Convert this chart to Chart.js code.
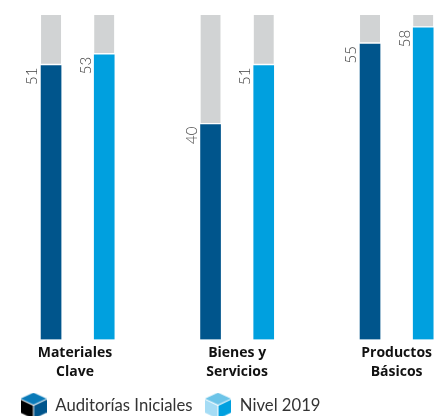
<!DOCTYPE html>
<html>
<head>
<meta charset="utf-8">
<script src="https://cdn.jsdelivr.net/npm/chart.js@4/dist/chart.umd.min.js"></script>
<style>
  html, body { margin: 0; padding: 0; background: #fff; overflow: hidden; }
  #wrap { position: relative; width: 445px; height: 416px; }
</style>
</head>
<body>
<div id="wrap"><canvas id="myChart" width="445" height="416"></canvas></div>
<script>
const categories = [['Materiales', 'Clave'], ['Bienes y', 'Servicios'], ['Productos', 'Básicos']];
const seriesNames = ['Auditorías Iniciales', 'Nivel 2019'];
const auditorias = [51, 40, 55];
const nivel2019 = [53, 51, 58];
const scaleTop = 60.4;

const DARK = '#00558c';
const LIGHT = '#00a0df';
const GREY = '#d1d3d4';

// each category takes three slots on the x scale: two bars and a gap
const points = (values, offset) => values.map((v, i) => ({ x: i * 3 + offset, y: v }));
const rest = (values, offset) => values.map((v, i) => ({ x: i * 3 + offset, y: scaleTop - v }));
const labelSlots = [0.45, 3.5, 6.5];

function cube(top, left, right) {
  const c = document.createElement('canvas');
  c.width = 26;
  c.height = 26;
  const g = c.getContext('2d');
  const face = (color, pts) => {
    g.fillStyle = color;
    g.beginPath();
    pts.forEach((p, i) => i ? g.lineTo(p[0], p[1]) : g.moveTo(p[0], p[1]));
    g.closePath();
    g.fill();
  };
  face(top, [[13, 0], [26, 6], [13, 12], [0, 6]]);
  face(left, [[0, 7], [12.5, 13], [12.5, 26], [0, 20]]);
  face(right, [[26, 7], [13.5, 13], [13.5, 26], [26, 20]]);
  return c;
}

const cubes = [cube('#0a7ab8', '#000000', DARK), cube('#6cc4e8', '#a5dcf5', LIGHT)];

const barLabels = {
  id: 'barLabels',
  afterDatasetsDraw(chart) {
    const ctx = chart.ctx;
    ctx.save();
    ctx.font = '300 15px Lato';
    ctx.fillStyle = '#444444';
    ctx.textAlign = 'right';
    ctx.textBaseline = 'middle';
    [0, 1].forEach(d => {
      chart.getDatasetMeta(d).data.forEach((bar, i) => {
        ctx.save();
        ctx.translate(bar.x - 18.5, bar.y + 2);
        ctx.rotate(-Math.PI / 2);
        ctx.fillText(chart.data.datasets[d].data[i].y, 0, 0);
        ctx.restore();
      });
    });
    ctx.restore();
  }
};

const barOpts = { barThickness: 20, borderWidth: 0 };

new Chart(document.getElementById('myChart'), {
  type: 'bar',
  plugins: [barLabels],
  data: {
    datasets: [
      { label: seriesNames[0], data: points(auditorias, 0), backgroundColor: DARK, ...barOpts },
      { label: seriesNames[1], data: points(nivel2019, 1), backgroundColor: LIGHT, ...barOpts },
      { label: 'resto', data: rest(auditorias, 0).concat(rest(nivel2019, 1)), backgroundColor: GREY,
        barThickness: 20, borderColor: '#ffffff', borderWidth: { bottom: 2, top: 0, left: 0, right: 0 }, borderSkipped: false }
    ]
  },
  options: {
    responsive: false,
    animation: false,
    layout: { padding: { top: 15, bottom: -8, left: 8 } },
    plugins: {
      tooltip: { enabled: false },
      legend: {
        position: 'bottom',
        align: 'start',
        labels: {
          usePointStyle: true,
          pointStyleWidth: 27,
          font: { family: 'Lato', size: 16.7 },
          color: '#333333',
          padding: 12,
          filter: item => item.datasetIndex < 2,
          generateLabels(chart) {
            return Chart.defaults.plugins.legend.labels.generateLabels(chart).map((item, i) => {
              item.pointStyle = cubes[i];
              return item;
            });
          }
        }
      }
    },
    scales: {
      x: {
        type: 'linear',
        stacked: true,
        offset: false,
        min: -0.81,
        max: 7.41,
        grid: { display: false },
        border: { display: false },
        afterBuildTicks(axis) {
          axis.ticks = labelSlots.map(v => ({ value: v }));
        },
        afterFit(axis) {
          axis.height += 8;
        },
        ticks: {
          color: '#111111',
          padding: -4,
          maxRotation: 0,
          autoSkip: false,
          font: { family: 'Open Sans', weight: 'bold', size: 14, lineHeight: 1.35 },
          callback: (value, index) => categories[index]
        }
      },
      y: { display: false, stacked: true, min: 0, max: scaleTop }
    }
  }
});
</script>
</body>
</html>
